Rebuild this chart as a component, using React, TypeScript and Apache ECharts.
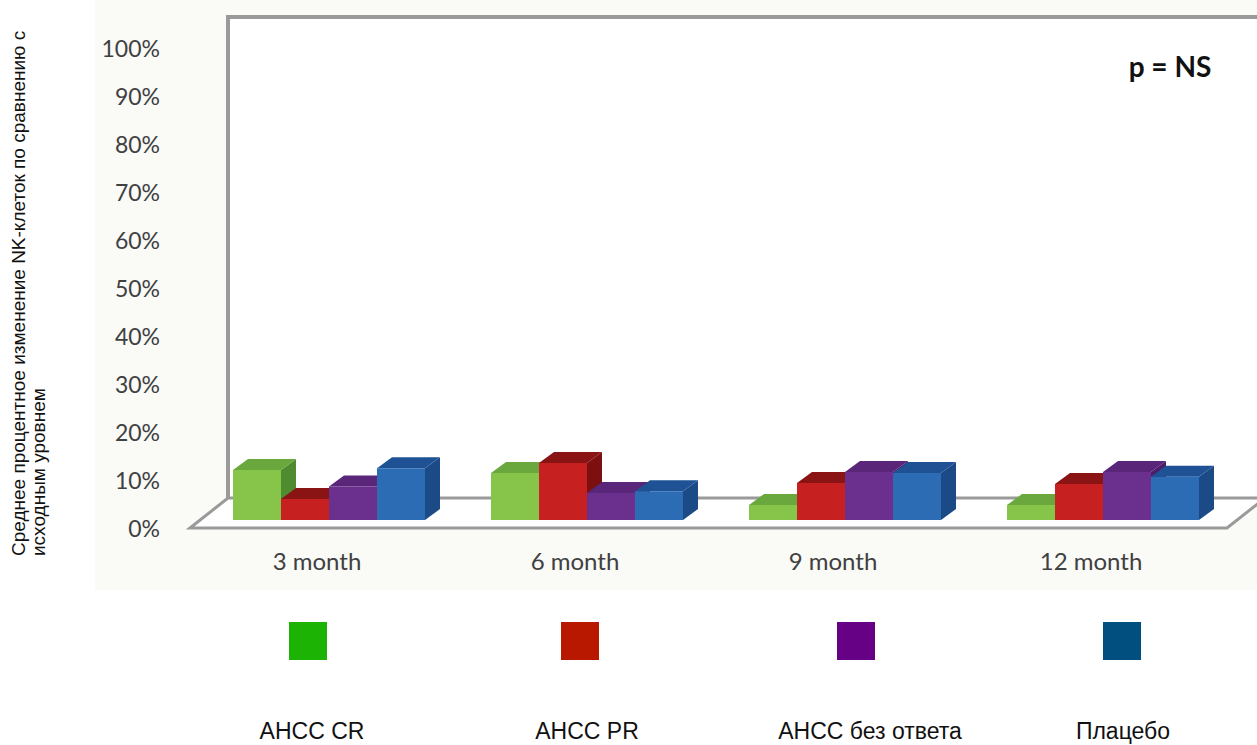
import React, { useEffect, useRef } from "react";
import * as echarts from "echarts";

const categories = ["3 month", "6 month", "9 month", "12 month"];
const seriesNames = ["АНСС CR", "АНСС PR", "АНСС без ответа", "Плацебо"];
const crValues = [10.4, 9.8, 3.1, 3.1];
const prValues = [4.4, 11.9, 7.7, 7.5];
const noResponseValues = [7.0, 5.6, 10.0, 10.0];
const placeboValues = [10.8, 6.0, 9.8, 9.0];
const allValues = [crValues, prValues, noResponseValues, placeboValues];

const legendColors = ["#1db304", "#b81800", "#660085", "#004f7f"];
const frontColors = ["#86c44a", "#c62020", "#6b2f8e", "#2b6cb5"];
const topColors = ["#6aa83e", "#8a1414", "#59267a", "#1e5294"];
const sideColors = ["#4f8c2f", "#7c1010", "#4c1d6b", "#1b4a86"];

const yAxisTitle = "Среднее процентное изменение NK-клеток по сравнению с\nисходным уровнем";
const pValueText = "p = NS";

export default function App() {
  const ref = useRef<HTMLDivElement>(null);
  useEffect(() => {
    document.body.style.margin = "0";
    if (!ref.current) return;
    const chart = echarts.init(ref.current, undefined, { renderer: "svg" });
    const BAR_W = 48;
    const DX = 15;
    const DY = -11;
    const LIFT = 8;
    const series = allValues.map((vals, i) => ({
      type: "custom",
      name: seriesNames[i],
      z: 5,
      data: categories.map((_, j) => [j, vals[j]]),
      renderItem: (params: any, api: any) => {
        const cat = api.value(0);
        const v = api.value(1);
        const p0 = api.coord([cat, 0]);
        const pv = api.coord([cat, v]);
        const h = p0[1] - pv[1];
        const x = p0[0] - 84 + BAR_W * i;
        const yb = p0[1] - LIFT;
        const yt = yb - h;
        const w = BAR_W;
        return {
          type: "group",
          children: [
            {
              type: "polygon",
              shape: { points: [[x + w, yb], [x + w + DX, yb + DY], [x + w + DX, yt + DY], [x + w, yt]] },
              style: { fill: sideColors[i] },
            },
            {
              type: "polygon",
              shape: { points: [[x, yt], [x + DX, yt + DY], [x + w + DX, yt + DY], [x + w, yt]] },
              style: { fill: topColors[i] },
            },
            {
              type: "rect",
              shape: { x, y: yt, width: w, height: h },
              style: { fill: frontColors[i] },
            },
          ],
        };
      },
    }));

    const legendRectX = [289, 561, 837, 1103];
    const legendTextX = [312, 587, 870, 1123];

    chart.setOption({
      animation: false,
      grid: { left: 188, right: 37, top: 48, bottom: 217 },
      xAxis: {
        type: "category",
        data: categories,
        axisLine: { show: false },
        axisTick: { show: false },
        splitLine: { show: false },
        axisLabel: { color: "#404040", fontSize: 24, fontFamily: "Lato", margin: 20 },
      },
      yAxis: {
        type: "value",
        min: 0,
        max: 100,
        interval: 10,
        axisLine: { show: false },
        axisTick: { show: false },
        splitLine: { show: false },
        axisLabel: { formatter: "{value}%", color: "#404040", fontSize: 23, fontFamily: "Lato", margin: 28 },
      },
      graphic: [
        { type: "rect", z: -10, shape: { x: 95, y: 0, width: 1162, height: 590 }, style: { fill: "#fafaf7" } },
        { type: "rect", z: -9, shape: { x: 228, y: 17, width: 1040, height: 481 }, style: { fill: "#ffffff" } },
        {
          type: "polygon",
          z: -8,
          shape: { points: [[190, 528], [228, 498], [1265, 498], [1227, 528]] },
          style: { fill: "#ffffff", stroke: "#9a9a9a", lineWidth: 3 },
        },
        {
          type: "polyline",
          z: -7,
          shape: { points: [[228, 498], [228, 17], [1260, 17]] },
          style: { stroke: "#9a9a9a", lineWidth: 4, fill: "none" },
        },
        {
          type: "text",
          x: 1170,
          y: 66,
          style: { text: pValueText, fontSize: 28, fontWeight: "bold", fontFamily: "Lato", fill: "#111", align: "center", verticalAlign: "middle" },
        },
        {
          type: "text",
          x: 28,
          y: 556,
          rotation: Math.PI / 2,
          style: {
            text: yAxisTitle,
            fontSize: 19,
            lineHeight: 20,
            fontFamily: "Liberation Sans",
            fill: "#111",
            align: "left",
            verticalAlign: "middle",
          },
        },
        ...seriesNames.map((_, i) => ({
          type: "rect",
          shape: { x: legendRectX[i], y: 622, width: 38, height: 38 },
          style: { fill: legendColors[i] },
        })),
        ...seriesNames.map((name, i) => ({
          type: "text",
          x: legendTextX[i],
          y: 731,
          style: { text: name, fontSize: 23, fontFamily: "Liberation Sans", fill: "#111", align: "center", verticalAlign: "middle" },
        })),
      ],
      series,
    });
    return () => chart.dispose();
  }, []);
  return <div ref={ref} style={{ width: 1257, height: 745 }} />;
}
